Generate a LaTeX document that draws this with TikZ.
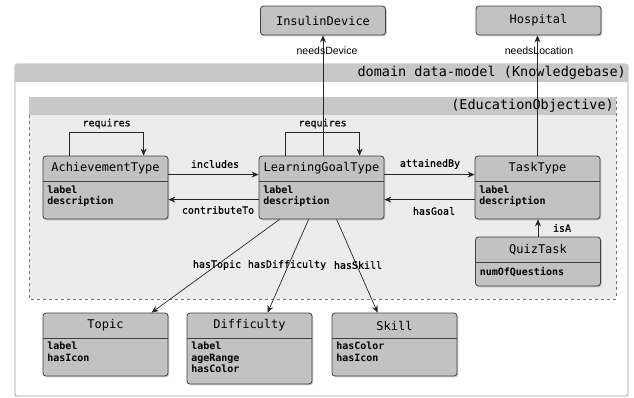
\documentclass[tikz,border=0pt]{standalone}
\usepackage{fontspec}
\setmonofont{DejaVu Sans Mono}
\newfontfamily\semimono[FakeBold=0.8]{DejaVu Sans Mono}
\newfontfamily\narrowsans{Liberation Sans}
\usetikzlibrary{shadows,calc,arrows.meta}
\definecolor{boxfill}{HTML}{C2C2C2}
\definecolor{bandfill}{HTML}{C8C8C8}
\definecolor{innerfill}{HTML}{ECECEC}
\definecolor{outerline}{HTML}{9A9AB8}
\begin{document}
\begin{tikzpicture}[x=1pt,y=-1pt,
  cls/.style={draw=black!75, fill=boxfill, rounded corners=3pt, line width=0.8pt,
    drop shadow={shadow xshift=1.3pt,shadow yshift=-1.3pt,opacity=0.35},
    minimum width=125pt, inner sep=0pt},
  hdr/.style={font=\fontsize{12}{14}\selectfont\ttfamily, inner sep=0pt},
  attr/.style={font=\fontsize{10}{11.5}\selectfont\ttfamily\bfseries, align=left, inner sep=0pt, anchor=north west},
  lbl/.style={font=\fontsize{10}{12}\selectfont\semimono, inner sep=0pt},
  slbl/.style={font=\fontsize{10.5}{12}\selectfont\narrowsans, inner sep=0pt},
  ttl/.style={font=\fontsize{13.5}{15}\selectfont\ttfamily, inner sep=0pt, anchor=east},
  arr/.style={-{Stealth[length=7pt,width=6pt]}, line width=0.7pt, draw=black!85},
  sep/.style={line width=0.8pt, draw=black!75}
]
\useasboundingbox (0,0) rectangle (634,397);

% outer container
\draw[outerline, fill=white, rounded corners=2pt, line width=0.8pt] (15,64) rectangle (628,396);
\fill[bandfill] (15.4,64.4) rectangle (627.6,82);
\node[ttl] (domtitle) at (626,73) {domain data-model (Knowledgebase)};

% inner container
\draw[black!55, dashed, fill=innerfill, line width=0.6pt] (29,97) rectangle (616,299);
\fill[bandfill] (29.3,97.3) rectangle (615.7,115);
\node[ttl] (edutitle) at (614,106) {(EducationObjective)};

% external boxes
\node[cls, minimum height=29pt] (insulin) at (323,20.5) {};
\node[hdr] (insulinT) at (insulin.center) {InsulinDevice};
\node[cls, minimum height=29pt] (hosp) at (538.5,20.5) {};
\node[hdr] (hospT) at (hosp.center) {Hospital};

% class boxes
\node[cls, minimum height=63pt] (at) at (105.5,187.5) {};
\node[cls, minimum height=63pt] (lgt) at (321.5,187.5) {};
\node[cls, minimum height=63pt] (tt) at (537.5,187.5) {};
\node[cls, minimum height=49pt] (qt) at (538,261.5) {};
\node[cls, minimum height=63pt] (topic) at (105.5,344.5) {};
\node[cls, minimum height=71pt] (diff) at (249.5,348.5) {};
\node[cls, minimum height=63pt] (skill) at (394.5,344.5) {};

\foreach \b/\t in {at/AchievementType, lgt/LearningGoalType, tt/TaskType, qt/QuizTask, topic/Topic, diff/Difficulty, skill/Skill}{
  \node[hdr] (\b T) at ($(\b.north)+(0,13)$) {\t};
  \draw[sep] ($(\b.north west)+(0,25.5)$) -- ($(\b.north east)+(0,25.5)$);
}
\node[attr] (atA) at ($(at.north west)+(4.5,30)$) {label\\description};
\node[attr] (lgtA) at ($(lgt.north west)+(4.5,30)$) {label\\description};
\node[attr] (ttA) at ($(tt.north west)+(4.5,30)$) {label\\description};
\node[attr] (qtA) at ($(qt.north west)+(4.5,31)$) {numOfQuestions};
\node[attr] (topicA) at ($(topic.north west)+(4.5,29.5)$) {label\\hasIcon};
\node[attr] (diffA) at ($(diff.north west)+(4.5,29.5)$) {label\\ageRange\\hasColor};
\node[attr] (skillA) at ($(skill.north west)+(4.5,29.5)$) {hasColor\\hasIcon};

% connectors
\draw[arr] ($(at.north west)+(27,0)$) -- ++(0,-23) -| ($(at.north west)+(101,0)$);
\node[lbl] (reqA) at ($(at.north west)+(64,-32)$) {requires};
\draw[arr] ($(lgt.north west)+(27,0)$) -- ++(0,-23) -| ($(lgt.north west)+(101,0)$);
\node[lbl] (reqL) at ($(lgt.north west)+(64,-32)$) {requires};

\draw[arr] (lgt.north -| insulin.south) -- (insulin.south);
\node[slbl] (needsDev) at (327,51) {needsDevice};
\draw[arr] (tt.north) -- (tt.north |- hosp.south);
\node[slbl] (needsLoc) at (539,51) {needsLocation};

\draw[arr] ($(at.north east)+(0,19)$) -- ($(lgt.north west)+(0,19)$);
\node[lbl] (incl) at (215,164) {includes};
\draw[arr] ($(lgt.north west)+(0,44)$) -- ($(at.north east)+(0,44)$);
\node[lbl] (contr) at (218,210) {contributeTo};
\draw[arr] ($(lgt.north east)+(0,19)$) -- ($(tt.north west)+(0,19)$);
\node[lbl] (attn) at (430,164) {attainedBy};
\draw[arr] ($(tt.north west)+(0,44)$) -- ($(lgt.north east)+(0,44)$);
\node[lbl] (hasG) at (434,211) {hasGoal};

\draw[arr] (qt.north) -- (tt.south -| qt.north);
\node[lbl] (isA) at (562,228) {isA};

\draw[arr] ($(lgt.south west)+(21,0)$) -- ($(topic.north west)+(109,0)$);
\draw[arr] ($(lgt.south west)+(50,0)$) -- ($(diff.north west)+(81,0)$);
\draw[arr] ($(lgt.south west)+(78,0)$) -- ($(skill.north west)+(46,0)$);
\node[lbl] (hTopic) at (217,265) {hasTopic};
\node[lbl] (hDiff) at (287,265) {hasDifficulty};
\node[lbl] (hSkill) at (358,265) {hasSkill};
\end{tikzpicture}
\end{document}
